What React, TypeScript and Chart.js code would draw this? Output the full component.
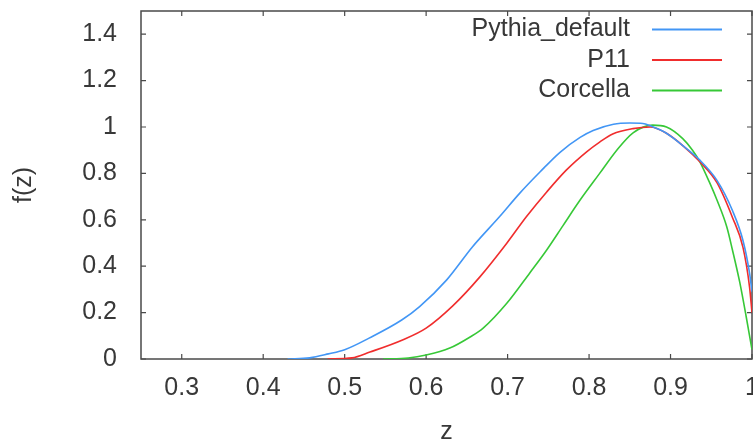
import React, { useEffect, useRef } from "react";
import { Chart, registerables } from "chart.js";

Chart.register(...registerables);

// ---- data ----
const SERIES_NAMES = ["Pythia_default", "P11", "Corcella"];
const SERIES_COLORS = ["rgb(66,150,245)", "rgb(240,45,45)", "rgb(55,200,55)"];

const Z_PYTHIA = [0.43, 0.457, 0.48, 0.5, 0.53, 0.57, 0.592, 0.625, 0.657, 0.69, 0.715, 0.74, 0.764, 0.789, 0.805, 0.83, 0.85, 0.866, 0.875, 0.895, 0.915, 0.936, 0.957, 0.976, 0.989, 0.997, 1.0];
const F_PYTHIA = [0, 0.005, 0.022, 0.04, 0.09, 0.168, 0.226, 0.34, 0.484, 0.613, 0.715, 0.807, 0.89, 0.955, 0.985, 1.012, 1.017, 1.015, 1.005, 0.973, 0.92, 0.857, 0.77, 0.64, 0.51, 0.37, 0.29];

const Z_P11 = [0.479, 0.509, 0.531, 0.571, 0.6, 0.633, 0.666, 0.699, 0.723, 0.748, 0.772, 0.797, 0.813, 0.829, 0.854, 0.875, 0.895, 0.915, 0.936, 0.957, 0.976, 0.989, 0.997, 1.0];
const F_P11 = [0, 0.005, 0.03, 0.082, 0.133, 0.23, 0.354, 0.499, 0.613, 0.72, 0.814, 0.893, 0.935, 0.97, 0.993, 1.0, 0.973, 0.92, 0.85, 0.76, 0.61, 0.48, 0.31, 0.2];

const Z_CORCELLA = [0.547, 0.578, 0.6, 0.629, 0.654, 0.67, 0.699, 0.727, 0.748, 0.768, 0.789, 0.813, 0.834, 0.854, 0.878, 0.895, 0.915, 0.927, 0.936, 0.948, 0.957, 0.969, 0.976, 0.985, 0.993, 1.0];
const F_CORCELLA = [0, 0.004, 0.017, 0.047, 0.095, 0.133, 0.24, 0.37, 0.47, 0.575, 0.685, 0.8, 0.9, 0.975, 1.008, 1.0, 0.95, 0.9, 0.85, 0.76, 0.685, 0.57, 0.47, 0.33, 0.18, 0.04];

const X_TICKS = [0.3, 0.4, 0.5, 0.6, 0.7, 0.8, 0.9, 1.0];
const X_LABELS = ["0.3", "0.4", "0.5", "0.6", "0.7", "0.8", "0.9", "1"];
const Y_TICKS = [0, 0.2, 0.4, 0.6, 0.8, 1.0, 1.2, 1.4];
const Y_LABELS = ["0", "0.2", "0.4", "0.6", "0.8", "1", "1.2", "1.4"];

const X_MIN = 0.25;
const X_MAX = 1.0;
const Y_MIN = 0;
const Y_MAX = 1.5;

const X_TITLE = "z";
const Y_TITLE = "f(z)";

const FONT = "'Liberation Sans', Arial, sans-serif";
const TEXT_COLOR = "#383838";
const FRAME_COLOR = "#4a4a4a";

const toPoints = (xs: number[], ys: number[]) => xs.map((x, i) => ({ x, y: ys[i] }));

const framePlugin = {
  id: "gnuplotFrame",
  beforeDatasetsDraw(chart: any) {
    const { ctx, chartArea } = chart;
    const { left, right, top, bottom } = chartArea;
    const xs = chart.scales.x;
    const ys = chart.scales.y;
    const tl = 5;
    ctx.save();
    ctx.strokeStyle = FRAME_COLOR;
    ctx.lineWidth = 1.5;
    ctx.strokeRect(left, top, right - left, bottom - top);
    ctx.lineWidth = 1.2;
    ctx.beginPath();
    X_TICKS.forEach((v) => {
      const px = xs.getPixelForValue(v);
      ctx.moveTo(px, bottom);
      ctx.lineTo(px, bottom - tl);
      ctx.moveTo(px, top);
      ctx.lineTo(px, top + tl);
    });
    Y_TICKS.forEach((v) => {
      const py = ys.getPixelForValue(v);
      ctx.moveTo(left, py);
      ctx.lineTo(left + tl, py);
      ctx.moveTo(right, py);
      ctx.lineTo(right - tl, py);
    });
    ctx.stroke();
    ctx.restore();
  },
};

const legendPlugin = {
  id: "gnuplotLegend",
  afterDatasetsDraw(chart: any) {
    const { ctx } = chart;
    const textRight = 630;
    const lineX0 = 652;
    const lineX1 = 722;
    ctx.save();
    ctx.font = `25px ${FONT}`;
    ctx.textAlign = "right";
    ctx.textBaseline = "alphabetic";
    chart.data.datasets.forEach((ds: any, i: number) => {
      const ly = 29.5 + 30.5 * i;
      ctx.fillStyle = TEXT_COLOR;
      ctx.fillText(ds.label, textRight, ly + 6.8);
      ctx.strokeStyle = ds.borderColor;
      ctx.lineWidth = 2;
      ctx.beginPath();
      ctx.moveTo(lineX0, ly);
      ctx.lineTo(lineX1, ly);
      ctx.stroke();
    });
    ctx.restore();
  },
};

export default function App() {
  const canvasRef = useRef<HTMLCanvasElement | null>(null);

  useEffect(() => {
    document.body.style.margin = "0";
    const canvas = canvasRef.current;
    if (!canvas) return;

    const seriesZ = [Z_PYTHIA, Z_P11, Z_CORCELLA];
    const seriesF = [F_PYTHIA, F_P11, F_CORCELLA];

    const chart = new Chart(canvas, {
      type: "line",
      data: {
        datasets: SERIES_NAMES.map((name, i) => ({
          label: name,
          data: toPoints(seriesZ[i], seriesF[i]),
          borderColor: SERIES_COLORS[i],
          backgroundColor: SERIES_COLORS[i],
          borderWidth: 1.6,
          pointRadius: 0,
          fill: false,
          cubicInterpolationMode: "monotone" as const,
        })),
      },
      options: {
        animation: false,
        responsive: false,
        maintainAspectRatio: false,
        layout: { padding: { left: 0, right: 1, top: 11, bottom: 0 } },
        plugins: {
          legend: { display: false },
          tooltip: { enabled: false },
        },
        scales: {
          x: {
            type: "linear",
            min: X_MIN,
            max: X_MAX,
            grid: { display: false, drawTicks: false },
            border: { display: false },
            afterBuildTicks: (s: any) => {
              s.ticks = X_TICKS.map((v) => ({ value: v }));
            },
            afterFit: (s: any) => {
              s.height = 84;
              s.paddingLeft = 0;
              s.paddingRight = 0;
            },
            ticks: {
              padding: 14,
              maxRotation: 0,
              autoSkip: false,
              color: TEXT_COLOR,
              font: { family: FONT, size: 25 },
              callback: (_v: any, idx: number) => X_LABELS[idx],
            },
            title: {
              display: true,
              text: X_TITLE,
              color: TEXT_COLOR,
              font: { family: FONT, size: 25, lineHeight: 0.84 },
              padding: { top: 0, bottom: 0 },
            },
          },
          y: {
            type: "linear",
            min: Y_MIN,
            max: Y_MAX,
            grid: { display: false, drawTicks: false },
            border: { display: false },
            afterBuildTicks: (s: any) => {
              s.ticks = Y_TICKS.map((v) => ({ value: v }));
            },
            afterFit: (s: any) => {
              s.width = 141;
              s.paddingTop = 0;
              s.paddingBottom = 0;
            },
            ticks: {
              padding: 24,
              autoSkip: false,
              color: TEXT_COLOR,
              font: { family: FONT, size: 25 },
              callback: (_v: any, idx: number) => Y_LABELS[idx],
            },
            title: {
              display: true,
              text: Y_TITLE,
              color: TEXT_COLOR,
              font: { family: FONT, size: 25 },
              padding: { top: 9, bottom: 0 },
            },
          },
        },
      },
      plugins: [framePlugin, legendPlugin],
    });

    return () => chart.destroy();
  }, []);

  return (
    <div style={{ position: "absolute", left: 0, top: 0, width: 753, height: 443, background: "#fff" }}>
      <canvas ref={canvasRef} width={753} height={443} style={{ display: "block" }} />
    </div>
  );
}
